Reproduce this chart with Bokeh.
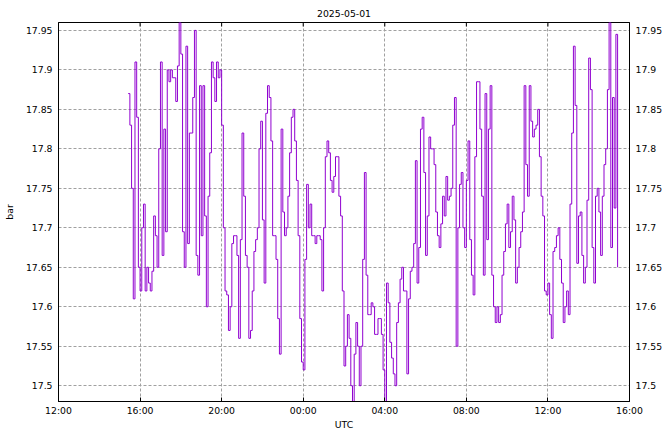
import math
import pandas as pd
from bokeh.plotting import figure
from bokeh.models import (Range1d, FixedTicker, DatetimeTickFormatter,
                          LinearAxis, CustomJSTickFormatter)
from bokeh.embed import file_html
from bokeh.resources import INLINE

# ---------------- data ----------------
title_text = "2025-05-01"
x_label = "UTC"
y_label = "bar"
start_time = "2025-05-01 15:25"
step_minutes = 5
pressure_bar = [
    17.87, 17.83, 17.75, 17.61, 17.91, 17.84, 17.65, 17.62, 17.70, 17.73, 17.62, 17.65,
    17.63, 17.62, 17.645, 17.715, 17.69, 17.65, 17.80, 17.91, 17.665, 17.825, 17.695, 17.90,
    17.885, 17.90, 17.89, 17.89, 17.86, 17.905, 17.96, 17.92, 17.695, 17.65, 17.93, 17.68,
    17.82, 17.82, 17.865, 17.95, 17.665, 17.64, 17.88, 17.69, 17.88, 17.715, 17.60, 17.74,
    17.795, 17.91, 17.89, 17.86, 17.91, 17.89, 17.90, 17.83, 17.70, 17.62, 17.615, 17.57,
    17.60, 17.68, 17.69, 17.69, 17.665, 17.56, 17.685, 17.82, 17.74, 17.665, 17.65, 17.56,
    17.57, 17.62, 17.67, 17.685, 17.70, 17.80, 17.835, 17.71, 17.63, 17.845, 17.88, 17.865,
    17.81, 17.69, 17.69, 17.66, 17.585, 17.54, 17.825, 17.72, 17.69, 17.70, 17.74, 17.795,
    17.84, 17.85, 17.81, 17.76, 17.69, 17.585, 17.53, 17.52, 17.66, 17.755, 17.70, 17.73,
    17.69, 17.69, 17.68, 17.69, 17.69, 17.685, 17.62, 17.70, 17.79, 17.81, 17.795, 17.76,
    17.745, 17.765, 17.79, 17.79, 17.74, 17.715, 17.62, 17.525, 17.55, 17.59, 17.56, 17.50,
    17.48, 17.54, 17.58, 17.55, 17.50, 17.55, 17.66, 17.77, 17.64, 17.59, 17.59, 17.605,
    17.60, 17.565, 17.565, 17.585, 17.585, 17.565, 17.52, 17.48, 17.63, 17.605, 17.555, 17.535,
    17.515, 17.50, 17.58, 17.605, 17.635, 17.65, 17.62, 17.62, 17.515, 17.61, 17.645, 17.65,
    17.68, 17.785, 17.63, 17.675, 17.825, 17.84, 17.77, 17.665, 17.715, 17.815, 17.80, 17.80,
    17.78, 17.72, 17.69, 17.675, 17.705, 17.74, 17.715, 17.765, 17.735, 17.74, 17.75, 17.83,
    17.865, 17.55, 17.70, 17.755, 17.77, 17.70, 17.675, 17.76, 17.81, 17.685, 17.64, 17.615,
    17.79, 17.885, 17.885, 17.825, 17.74, 17.64, 17.87, 17.685, 17.825, 17.88, 17.64, 17.60,
    17.58, 17.60, 17.58, 17.59, 17.64, 17.67, 17.705, 17.73, 17.675, 17.695, 17.74, 17.71,
    17.63, 17.65, 17.675, 17.695, 17.72, 17.88, 17.78, 17.74, 17.88, 17.835, 17.815, 17.825,
    17.83, 17.85, 17.79, 17.74, 17.715, 17.62, 17.615, 17.63, 17.59, 17.56, 17.67, 17.675,
    17.69, 17.70, 17.66, 17.63, 17.58, 17.60, 17.62, 17.59, 17.73, 17.82, 17.93, 17.855,
    17.655, 17.715, 17.72, 17.665, 17.63, 17.65, 17.735, 17.915, 17.875, 17.675, 17.63, 17.74,
    17.75, 17.72, 17.665, 17.74, 17.78, 17.80, 17.875, 17.96, 17.675, 17.865, 17.725, 17.945,
    17.65,
]
x_start = "2025-05-01 12:00"
x_end = "2025-05-02 16:00"
x_tick_times = ["2025-05-01 12:00", "2025-05-01 16:00", "2025-05-01 20:00",
                "2025-05-02 00:00", "2025-05-02 04:00", "2025-05-02 08:00",
                "2025-05-02 12:00", "2025-05-02 16:00"]
y_ticks = [17.5, 17.55, 17.6, 17.65, 17.7, 17.75, 17.8, 17.85, 17.9, 17.95]
y_min, y_max = 17.48, 17.96

# ---------------- build ----------------
def ms(t):
    return pd.Timestamp(t).value / 1e6

times = pd.date_range(start_time, periods=len(pressure_bar), freq=f"{step_minutes}min")
x_ticks_ms = [ms(t) for t in x_tick_times]

FONT = "DejaVu Sans"
FS = "9.3px"
LINE = "#9000d0"

p = figure(width=665, height=432, x_axis_type="datetime",
           x_range=Range1d(ms(x_start), ms(x_end)), y_range=Range1d(y_min, y_max),
           output_backend="svg", toolbar_location=None,
           min_border_left=58, min_border_right=36, min_border_top=22, min_border_bottom=30,
           title=title_text)
p.background_fill_color = "white"
p.border_fill_color = "white"
p.outline_line_color = "black"
p.outline_line_alpha = 1.0
p.outline_line_width = 1

p.title.text_font = FONT
p.title.text_font_size = FS
p.title.text_font_style = "normal"
p.title.text_color = "black"
p.title.align = "center"
p.title.vertical_align = "bottom"
p.title.standoff = 12

xfmt = DatetimeTickFormatter(hours="%H:%M", days="%H:%M", minutes="%H:%M",
                             hourmin="%H:%M", months="%H:%M", years="%H:%M")
yfmt = CustomJSTickFormatter(code="return String(parseFloat(tick.toFixed(2)));")


def style(ax):
    ax.major_label_text_font = FONT
    ax.major_label_text_font_size = FS
    ax.major_label_text_color = "black"
    ax.axis_line_color = "black"
    ax.major_tick_line_color = "black"
    ax.minor_tick_line_color = None
    ax.axis_label_text_font = FONT
    ax.axis_label_text_font_size = FS
    ax.axis_label_text_font_style = "normal"
    ax.axis_label_text_color = "black"


xa = p.xaxis[0]
xa.ticker = FixedTicker(ticks=x_ticks_ms)
xa.formatter = xfmt
style(xa)
xa.major_tick_in = 4
xa.major_tick_out = 0
xa.major_label_standoff = 3
xa.axis_label = x_label
xa.axis_label_standoff = 0

ya = p.yaxis[0]
ya.ticker = FixedTicker(ticks=y_ticks)
ya.formatter = yfmt
style(ya)
ya.major_tick_in = 0
ya.major_tick_out = 0
ya.major_label_standoff = 6
ya.axis_label = y_label
ya.axis_label_standoff = 8

right = LinearAxis(ticker=FixedTicker(ticks=y_ticks), formatter=yfmt)
style(right)
right.major_tick_in = 0
right.major_tick_out = 0
right.major_label_standoff = 6
p.add_layout(right, "right")

for g, t in ((p.xgrid[0], x_ticks_ms), (p.ygrid[0], y_ticks)):
    g.ticker = FixedTicker(ticks=t)
    g.grid_line_color = "#a0a0a0"
    g.grid_line_dash = "3 2"
    g.grid_line_width = 1

p.step(times, pressure_bar, mode="after", line_color=LINE, line_width=1)

# mirrored inward tick marks on the top edge of the frame
p.scatter(x=x_ticks_ms, y=[y_max] * len(x_ticks_ms), marker="dash", angle=math.pi / 2,
          size=8, line_color="black", line_width=1)

open("out.html", "w").write(file_html(p, INLINE))
